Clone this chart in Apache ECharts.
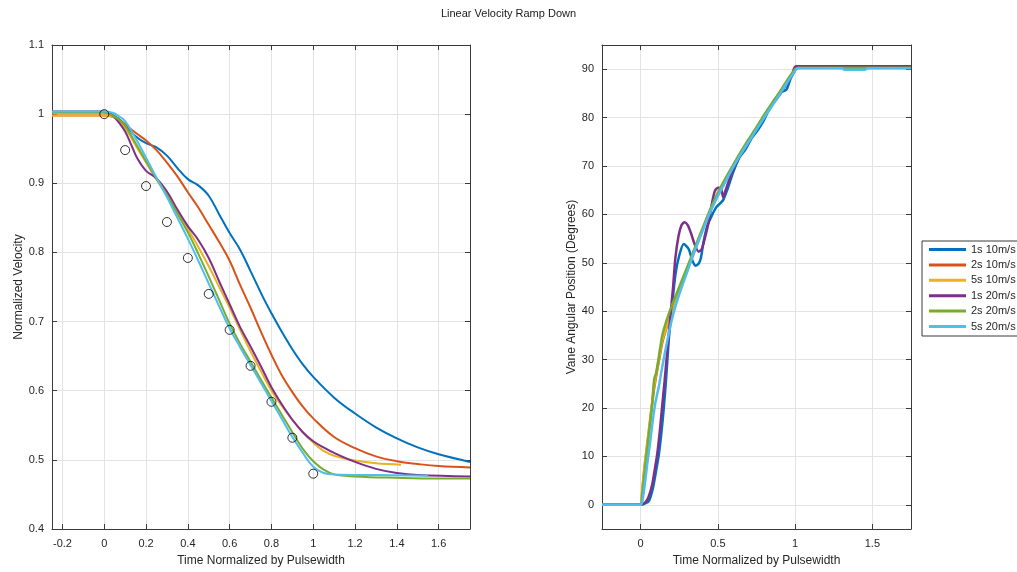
<!DOCTYPE html>
<html>
<head>
<meta charset="utf-8">
<script src="https://cdn.jsdelivr.net/npm/echarts@6/dist/echarts.min.js"></script>
<style>
  html, body { margin: 0; padding: 0; background: #ffffff; }
  #chart { width: 1017px; height: 572px; }
</style>
</head>
<body>
<div id="chart"></div>
<script>
// Run labels and colours
const seriesNames = ['1s 10m/s', '2s 10m/s', '5s 10m/s', '1s 20m/s', '2s 20m/s', '5s 20m/s'];
const seriesColors = ['#0072BD', '#D95319', '#EDB120', '#7E2F8E', '#77AC30', '#4DBEEE'];

// Normalized velocity: [time / pulsewidth, v / v0]
const vel1s10 = [[-0.25,1.003],[0,1.003],[0.04,0.999],[0.07,0.993],[0.1,0.985],[0.15,0.968],[0.2,0.958],[0.25,0.952],[0.3,0.94],[0.35,0.922],[0.4,0.906],[0.45,0.897],[0.5,0.882],[0.55,0.855],[0.6,0.828],[0.65,0.804],[0.7,0.773],[0.76,0.735],[0.8,0.712],[0.85,0.685],[0.9,0.66],[0.95,0.638],[1.0,0.62],[1.1,0.59],[1.2,0.567],[1.3,0.547],[1.4,0.531],[1.5,0.518],[1.6,0.508],[1.75,0.497]];
const vel2s10 = [[-0.25,0.998],[0,0.998],[0.04,0.996],[0.07,0.992],[0.1,0.985],[0.15,0.973],[0.2,0.962],[0.25,0.948],[0.3,0.93],[0.35,0.91],[0.4,0.887],[0.45,0.865],[0.5,0.84],[0.55,0.815],[0.6,0.788],[0.65,0.753],[0.7,0.72],[0.75,0.685],[0.8,0.652],[0.85,0.622],[0.9,0.598],[0.95,0.577],[1.0,0.56],[1.1,0.533],[1.2,0.517],[1.3,0.505],[1.4,0.498],[1.5,0.494],[1.6,0.491],[1.75,0.489]];
const vel5s10 = [[-0.25,0.998],[0,0.998],[0.04,0.996],[0.07,0.99],[0.1,0.98],[0.15,0.955],[0.2,0.93],[0.25,0.905],[0.3,0.883],[0.35,0.86],[0.4,0.834],[0.45,0.808],[0.5,0.78],[0.55,0.75],[0.6,0.72],[0.65,0.688],[0.7,0.657],[0.75,0.628],[0.8,0.6],[0.85,0.578],[0.9,0.558],[0.95,0.54],[1.0,0.525],[1.05,0.513],[1.1,0.506],[1.2,0.499],[1.3,0.495],[1.42,0.493]];
const vel1s20 = [[-0.25,1.004],[0,1.004],[0.04,0.998],[0.07,0.988],[0.1,0.975],[0.13,0.955],[0.16,0.935],[0.2,0.918],[0.25,0.907],[0.3,0.888],[0.35,0.862],[0.4,0.838],[0.45,0.818],[0.5,0.792],[0.55,0.758],[0.6,0.725],[0.65,0.692],[0.7,0.664],[0.75,0.635],[0.8,0.605],[0.85,0.58],[0.9,0.558],[0.95,0.54],[1.0,0.527],[1.05,0.518],[1.1,0.51],[1.2,0.497],[1.3,0.487],[1.4,0.481],[1.5,0.478],[1.75,0.476]];
const vel2s20 = [[-0.25,1.002],[0,1.002],[0.04,0.998],[0.07,0.992],[0.1,0.983],[0.15,0.958],[0.2,0.932],[0.25,0.907],[0.3,0.883],[0.35,0.856],[0.4,0.829],[0.45,0.798],[0.5,0.765],[0.55,0.731],[0.6,0.697],[0.65,0.668],[0.7,0.642],[0.75,0.616],[0.8,0.59],[0.85,0.565],[0.9,0.54],[0.95,0.516],[1.0,0.498],[1.05,0.486],[1.1,0.479],[1.2,0.476],[1.4,0.474],[1.6,0.473],[1.75,0.473]];
const vel5s20 = [[-0.25,1.004],[0,1.004],[0.04,1.002],[0.07,0.997],[0.1,0.99],[0.15,0.965],[0.2,0.937],[0.25,0.908],[0.3,0.88],[0.35,0.85],[0.4,0.82],[0.45,0.788],[0.5,0.755],[0.55,0.722],[0.6,0.69],[0.65,0.663],[0.7,0.637],[0.75,0.611],[0.8,0.585],[0.85,0.559],[0.9,0.533],[0.95,0.51],[1.0,0.49],[1.05,0.481],[1.1,0.479],[1.3,0.478],[1.55,0.477]];

// Ideal linear ramp reference points
const refTime = [0, 0.1, 0.2, 0.3, 0.4, 0.5, 0.6, 0.7, 0.8, 0.9, 1.0];
const refVel = [1.0, 0.948, 0.896, 0.844, 0.792, 0.740, 0.688, 0.636, 0.584, 0.532, 0.480];

// Vane angular position (degrees): [time / pulsewidth, angle]
const ang1s10 = [[-0.25,0],[0,0],[0.03,0.3],[0.054,0.8],[0.08,3.5],[0.1,7],[0.118,10.4],[0.135,15],[0.15,20],[0.165,26],[0.182,34],[0.2,40],[0.225,47.5],[0.25,51.5],[0.279,53.9],[0.31,52.9],[0.335,50.5],[0.354,49.4],[0.375,49.8],[0.39,51],[0.407,54.3],[0.43,57.5],[0.46,59.7],[0.49,61.5],[0.515,62.3],[0.535,63],[0.56,65],[0.6,68.8],[0.64,71.8],[0.68,73.5],[0.72,75.8],[0.76,77.5],[0.79,79],[0.83,81.5],[0.87,83.5],[0.91,85.2],[0.944,85.8],[0.97,88],[0.995,89.5],[1.008,90.4],[1.75,90.6]];
const ang2s10 = [[-0.25,0],[0,0],[0.01,2.5],[0.025,7.5],[0.04,11.5],[0.055,15.5],[0.07,19.5],[0.085,23.5],[0.1,26.5],[0.12,30],[0.14,33.5],[0.17,36.8],[0.2,39.5],[0.25,44.5],[0.3,48.5],[0.35,52.5],[0.4,56.8],[0.45,60.5],[0.5,64],[0.55,67],[0.6,70],[0.65,72.8],[0.7,75.3],[0.75,77.8],[0.8,80.3],[0.85,82.6],[0.9,85],[0.95,87.5],[1.0,89.8],[1.02,90.3],[1.75,90.3]];
const ang5s10 = [[-0.25,0],[0,0],[0.01,3],[0.025,8],[0.04,12],[0.055,16],[0.07,20],[0.085,24],[0.1,27],[0.12,30.5],[0.14,34],[0.17,37],[0.2,39.5],[0.25,44.5],[0.3,48.5],[0.33,51],[0.38,55.5],[0.44,60],[0.5,64],[0.55,67],[0.6,70],[0.65,72.8],[0.7,75.3],[0.75,77.8],[0.8,80.3],[0.85,82.6],[0.9,85],[0.95,87.5],[1.0,89.8],[1.02,90.3],[1.75,90.3]];
const ang1s20 = [[-0.25,0],[0,0],[0.03,0.5],[0.05,1.5],[0.075,4.2],[0.09,7],[0.107,10.4],[0.125,15.5],[0.14,20.6],[0.155,25.5],[0.17,31],[0.19,38],[0.21,45],[0.225,51],[0.245,55.5],[0.265,57.8],[0.285,58.4],[0.305,57.8],[0.325,56.2],[0.35,53.8],[0.375,52.3],[0.395,52.8],[0.415,55],[0.44,58.4],[0.46,62],[0.48,64.8],[0.5,65.5],[0.52,65.4],[0.535,63.5],[0.55,65],[0.6,69.5],[0.65,72.5],[0.7,75],[0.75,77.7],[0.8,80.3],[0.85,82.6],[0.9,84.7],[0.95,87.3],[0.98,88.8],[1.005,90.6],[1.75,90.6]];
const ang2s20 = [[-0.25,0],[0,0],[0.01,2],[0.025,6.5],[0.04,11],[0.06,16.5],[0.075,21],[0.088,26],[0.1,27.2],[0.115,30],[0.14,35],[0.17,38.3],[0.2,41],[0.25,45],[0.3,49],[0.35,53],[0.4,57],[0.45,61],[0.5,64.5],[0.55,67.5],[0.6,70.3],[0.65,73],[0.7,75.6],[0.75,78],[0.8,80.6],[0.85,83],[0.9,85.3],[0.95,87.8],[1.0,90],[1.02,90.3],[1.75,90.3]];
const ang5s20 = [[-0.25,0],[0,0],[0.015,1.5],[0.03,5],[0.045,9],[0.06,12.5],[0.075,16.5],[0.095,21],[0.118,24.5],[0.14,28.5],[0.17,33.5],[0.2,38],[0.225,41],[0.25,43.5],[0.3,48],[0.35,52.5],[0.4,56.5],[0.45,60.5],[0.5,63.8],[0.55,66.8],[0.6,69.8],[0.65,72.5],[0.7,75],[0.75,77.5],[0.8,80],[0.85,82.4],[0.9,84.8],[0.95,87.3],[1.0,89.7],[1.02,90.2],[1.3,90.2],[1.32,89.9],[1.45,89.9],[1.47,90.2],[1.75,90.2]];

// Tick positions
const velTicks = [0.4, 0.5, 0.6, 0.7, 0.8, 0.9, 1.0, 1.1];
const velTimeTicks = [-0.2, 0, 0.2, 0.4, 0.6, 0.8, 1.0, 1.2, 1.4, 1.6];
const angTicks = [0, 10, 20, 30, 40, 50, 60, 70, 80, 90];
const angTimeTicks = [0, 0.5, 1.0, 1.5];

const velRuns = [vel1s10, vel2s10, vel5s10, vel1s20, vel2s20, vel5s20];
const angRuns = [ang1s10, ang2s10, ang5s10, ang1s20, ang2s20, ang5s20];

const FONT = 'Liberation Sans, Arial, Helvetica, sans-serif';
const INK = '#262626';
const BOX = '#3a3a3a';

function axis(kind, gridIndex, position, min, max, ticks, primary, name, nameGap) {
  return {
    type: 'value',
    gridIndex: gridIndex,
    position: position,
    min: min,
    max: max,
    name: primary ? name : '',
    nameLocation: 'middle',
    nameGap: nameGap,
    nameTextStyle: { fontFamily: FONT, fontSize: 12, color: INK },
    axisLine: { show: true, onZero: false, lineStyle: { color: BOX, width: 1 } },
    axisTick: { show: true, inside: true, length: 5, customValues: ticks, lineStyle: { color: BOX, width: 1 } },
    axisLabel: {
      show: primary,
      customValues: ticks,
      margin: kind === 'x' ? 9 : 8,
      fontFamily: FONT,
      fontSize: 11,
      color: INK
    },
    splitLine: { show: primary, lineStyle: { color: '#e3e3e3', width: 1 } }
  };
}

const xAxes = [
  axis('x', 0, 'bottom', -0.25, 1.75, velTimeTicks, true, 'Time Normalized by Pulsewidth', 26),
  axis('x', 0, 'top', -0.25, 1.75, velTimeTicks, false, '', 0),
  axis('x', 1, 'bottom', -0.25, 1.75, angTimeTicks, true, 'Time Normalized by Pulsewidth', 26),
  axis('x', 1, 'top', -0.25, 1.75, angTimeTicks, false, '', 0)
];
const yAxes = [
  axis('y', 0, 'left', 0.4, 1.1, velTicks, true, 'Normalized Velocity', 22),
  axis('y', 0, 'right', 0.4, 1.1, velTicks, false, '', 0),
  axis('y', 1, 'left', -5, 95, angTicks, true, 'Vane Angular Position (Degrees)', 24),
  axis('y', 1, 'right', -5, 95, angTicks, false, '', 0)
];

const series = [];
velRuns.forEach(function (run, i) {
  series.push({
    name: seriesNames[i], type: 'line', xAxisIndex: 0, yAxisIndex: 0,
    data: run, showSymbol: false, smooth: 0.4,
    lineStyle: { color: seriesColors[i], width: 2 }, itemStyle: { color: seriesColors[i] },
    z: 2 + i
  });
});
series.push({
  name: 'Linear ramp', type: 'scatter', xAxisIndex: 0, yAxisIndex: 0,
  data: refTime.map(function (t, k) { return [t, refVel[k]]; }),
  symbol: 'circle', symbolSize: 9,
  itemStyle: { color: 'rgba(255,255,255,0)', borderColor: '#000', borderWidth: 1 },
  z: 20
});
angRuns.forEach(function (run, i) {
  series.push({
    name: seriesNames[i], type: 'line', xAxisIndex: 2, yAxisIndex: 2,
    data: run, showSymbol: false, smooth: 0.25,
    lineStyle: { color: seriesColors[i], width: 2.5 }, itemStyle: { color: seriesColors[i] },
    z: 2 + i
  });
});

const chart = echarts.init(document.getElementById('chart'), null, { renderer: 'canvas' });
chart.setOption({
  animation: false,
  backgroundColor: '#ffffff',
  color: seriesColors,
  title: {
    text: 'Linear Velocity Ramp Down',
    left: 'center',
    top: 3,
    textStyle: { fontFamily: FONT, fontSize: 11, fontWeight: 'normal', color: '#1a1a1a' }
  },
  legend: {
    data: seriesNames,
    orient: 'vertical',
    left: 922,
    top: 241,
    icon: 'rect',
    itemWidth: 37,
    itemHeight: 3,
    itemGap: 2.4,
    padding: [2, 12, 3, 7],
    backgroundColor: '#ffffff',
    borderColor: BOX,
    borderWidth: 1,
    borderRadius: 0,
    textStyle: { fontFamily: FONT, fontSize: 11, color: INK, lineHeight: 13 }
  },
  grid: [
    { left: 52, top: 45, width: 418, height: 485, containLabel: false },
    { left: 602, top: 45, width: 309, height: 485, containLabel: false }
  ],
  xAxis: xAxes,
  yAxis: yAxes,
  series: series
});
</script>
</body>
</html>
